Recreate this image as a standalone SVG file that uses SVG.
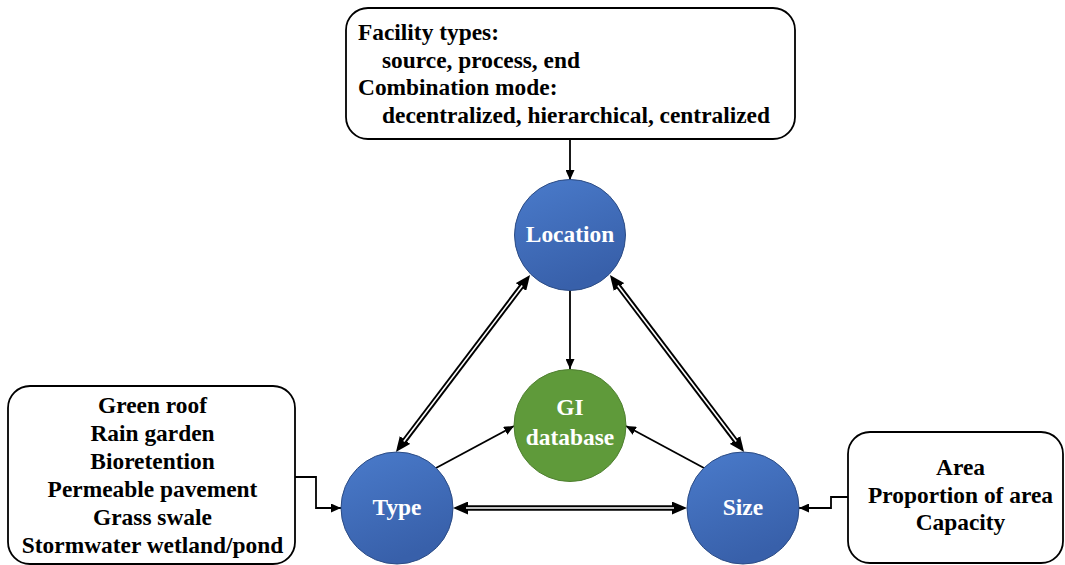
<svg xmlns="http://www.w3.org/2000/svg" width="1065" height="565" viewBox="0 0 1065 565">
<style>
.box{fill:#fff;stroke:#000;stroke-width:1.8}
.t{font-family:"Liberation Serif","Times New Roman",serif;font-weight:bold;font-size:23.4px;fill:#000}
.c{text-anchor:middle}
.w{font-family:"Liberation Serif","Times New Roman",serif;font-weight:bold;font-size:23.4px;fill:#fff;text-anchor:middle}
.blue{fill:url(#gb);stroke:#2C4C85;stroke-width:1}
.green{fill:#5F9A3A;stroke:#4F8030;stroke-width:1}
.ln{fill:none;stroke:#000;stroke-width:1.8}
.dk{fill:none;stroke:#000;stroke-width:5.5}
.dw{fill:none;stroke:#fff;stroke-width:1.6}
</style>
<defs>
<linearGradient id="gb" x1="0" y1="0" x2="0.4" y2="1">
<stop offset="0" stop-color="#4A7BCB"/>
<stop offset="1" stop-color="#3860AA"/>
</linearGradient>
<marker id="a" viewBox="0 -4.5 10 9" refX="10" refY="0" markerWidth="10" markerHeight="9" markerUnits="userSpaceOnUse" orient="auto">
<path d="M0,-4.5 L10,0 L0,4.5 z" fill="#000"/>
</marker>
<marker id="d" viewBox="0 -6.5 15 13" refX="1" refY="0" markerWidth="15" markerHeight="13" markerUnits="userSpaceOnUse" orient="auto-start-reverse">
<path d="M0,-6.5 L15,0 L0,6.5 z" fill="#000"/>
</marker>
</defs>

<g id="connectors">
<line class="ln" x1="570" y1="139" x2="570" y2="180" marker-end="url(#a)"/>
<line class="ln" x1="570" y1="290" x2="570" y2="369" marker-end="url(#a)"/>
<line class="ln" x1="436" y1="468" x2="514" y2="426" marker-end="url(#a)"/>
<line class="ln" x1="704" y1="468" x2="626" y2="426" marker-end="url(#a)"/>
<path class="ln" d="M295,477 H316 V508 H341" marker-end="url(#a)"/>
<path class="ln" d="M848,497 H831 V508 H799" marker-end="url(#a)"/>
<line class="dk" x1="467" y1="508" x2="673" y2="508" marker-start="url(#d)" marker-end="url(#d)"/>
<line class="dw" x1="466" y1="508" x2="674" y2="508"/>
<line class="dk" x1="404.4" y1="440.8" x2="521.6" y2="286.2" marker-start="url(#d)" marker-end="url(#d)"/>
<line class="dw" x1="403.8" y1="441.6" x2="522.2" y2="285.4"/>
<line class="dk" x1="618.4" y1="286.2" x2="735.6" y2="440.8" marker-start="url(#d)" marker-end="url(#d)"/>
<line class="dw" x1="617.8" y1="285.4" x2="736.2" y2="441.6"/>
</g>

<g id="top-box">
<rect class="box" x="346" y="8" width="449" height="131" rx="22"/>
<text class="t" x="358" y="40">Facility types:</text>
<text class="t" x="382" y="67.7">source, process, end</text>
<text class="t" x="358" y="95.3">Combination mode:</text>
<text class="t" x="382" y="123">decentralized, hierarchical, centralized</text>
</g>

<g id="left-box">
<rect class="box" x="8" y="386" width="287" height="178" rx="22"/>
<text class="t c" x="152.5" y="413">Green roof</text>
<text class="t c" x="152.5" y="441">Rain garden</text>
<text class="t c" x="152.5" y="469">Bioretention</text>
<text class="t c" x="152.5" y="497">Permeable pavement</text>
<text class="t c" x="152.5" y="525">Grass swale</text>
<text class="t c" x="152.5" y="553">Stormwater wetland/pond</text>
</g>

<g id="right-box">
<rect class="box" x="848" y="432" width="215" height="131" rx="22"/>
<text class="t c" x="960.5" y="475">Area</text>
<text class="t c" x="960.5" y="502.5">Proportion of area</text>
<text class="t c" x="960.5" y="530">Capacity</text>
</g>

<g id="location">
<circle class="blue" cx="570" cy="235" r="55.5"/>
<text class="w" x="570" y="242">Location</text>
</g>

<g id="gi-database">
<circle class="green" cx="570" cy="425.5" r="56"/>
<text class="w" x="570" y="415">GI</text>
<text class="w" x="570" y="445">database</text>
</g>

<g id="type">
<circle class="blue" cx="397" cy="508" r="56"/>
<text class="w" x="397" y="515">Type</text>
</g>

<g id="size">
<circle class="blue" cx="743" cy="508" r="56"/>
<text class="w" x="743" y="515">Size</text>
</g>
</svg>
